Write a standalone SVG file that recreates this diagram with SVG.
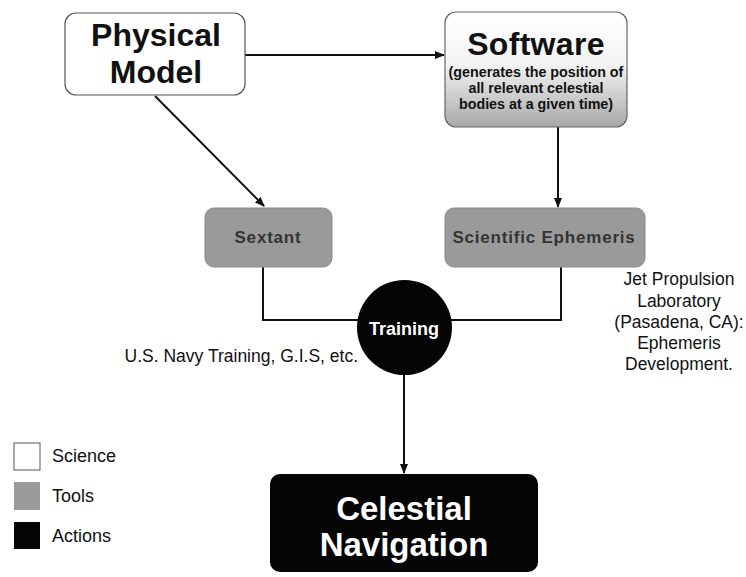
<svg xmlns="http://www.w3.org/2000/svg" width="746" height="577" viewBox="0 0 746 577">
<style>
text{font-family:"Liberation Sans",Arial,sans-serif}
.b{font-weight:bold}
.c{text-anchor:middle}
.line{fill:none;stroke:#111;stroke-width:2}
.tool{fill:#9a9a9a;stroke:#8a8a8a;stroke-width:1}
.tt{font-size:17px;font-weight:bold;fill:#333;letter-spacing:0.8px}
.note{font-size:17.5px;fill:#111}
.leg{font-size:18px;fill:#111}
</style>
<defs>
<linearGradient id="g" x1="0" y1="0" x2="0" y2="1">
<stop offset="0" stop-color="#ffffff"/>
<stop offset="0.45" stop-color="#f4f4f4"/>
<stop offset="1" stop-color="#a8a8a8"/>
</linearGradient>
<marker id="ar" markerWidth="10" markerHeight="10" refX="9" refY="5" orient="auto" markerUnits="userSpaceOnUse">
<path d="M0,1 L10,5 L0,9 Z" fill="#111"/>
</marker>
</defs>
<rect width="746" height="577" fill="#fff"/>
<g id="connectors">
<line class="line" x1="245" y1="55" x2="444" y2="55" marker-end="url(#ar)"/>
<line class="line" x1="155" y1="96" x2="264" y2="206" marker-end="url(#ar)"/>
<line class="line" x1="558" y1="127" x2="558" y2="207" marker-end="url(#ar)"/>
<polyline class="line" points="263,267 263,320 360,320"/>
<polyline class="line" points="561,267 561,320 450,320"/>
<line class="line" x1="404" y1="374" x2="404" y2="473" marker-end="url(#ar)"/>
</g>
<g id="physical-model">
<rect x="65" y="13" width="180" height="82" rx="11" fill="#fff" stroke="#555" stroke-width="1.2"/>
<text class="b c" x="156" y="46" font-size="32" fill="#111">Physical</text>
<text class="b c" x="156" y="83" font-size="32" fill="#111">Model</text>
</g>
<g id="software">
<rect x="445" y="12" width="182" height="115" rx="11" fill="url(#g)" stroke="#666" stroke-width="1.2"/>
<text class="b c" x="536" y="55" font-size="32" fill="#111" letter-spacing="0.3">Software</text>
<text class="b c" x="536" y="77" font-size="14.3" fill="#111">(generates the position of</text>
<text class="b c" x="536" y="93" font-size="14.3" fill="#111">all relevant celestial</text>
<text class="b c" x="536" y="109" font-size="14.3" fill="#111">bodies at a given time)</text>
</g>
<g id="sextant">
<rect class="tool" x="205" y="208" width="127" height="59" rx="9"/>
<text class="tt c" x="268" y="243">Sextant</text>
</g>
<g id="scientific-ephemeris">
<rect class="tool" x="445" y="208" width="200" height="59" rx="9"/>
<text class="tt c" x="544" y="243">Scientific Ephemeris</text>
</g>
<g id="training">
<circle cx="404.5" cy="327.5" r="47.5" fill="#050505"/>
<text class="b c" x="404" y="335" font-size="18" fill="#fff">Training</text>
</g>
<text class="note" x="358" y="362" text-anchor="end">U.S. Navy Training, G.I.S, etc.</text>
<g id="jpl-note">
<text class="note c" x="679" y="285">Jet Propulsion</text>
<text class="note c" x="679" y="307">Laboratory</text>
<text class="note c" x="679" y="328">(Pasadena, CA):</text>
<text class="note c" x="679" y="349">Ephemeris</text>
<text class="note c" x="679" y="370">Development.</text>
</g>
<g id="celestial-navigation">
<rect x="270" y="474" width="268" height="98" rx="10" fill="#050505"/>
<text class="b c" x="404" y="520" font-size="33" fill="#fff">Celestial</text>
<text class="b c" x="404" y="556" font-size="33" fill="#fff">Navigation</text>
</g>
<g id="legend">
<rect x="14" y="443" width="26" height="27" fill="#fff" stroke="#555" stroke-width="1"/>
<text class="leg" x="52" y="462">Science</text>
<rect x="14" y="482" width="26" height="28" fill="#9a9a9a"/>
<text class="leg" x="52" y="502">Tools</text>
<rect x="14" y="522" width="26" height="27" fill="#050505"/>
<text class="leg" x="52" y="542">Actions</text>
</g>
</svg>
